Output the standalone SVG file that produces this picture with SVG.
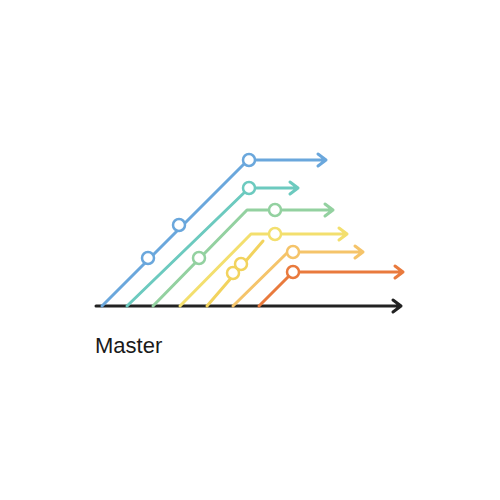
<svg xmlns="http://www.w3.org/2000/svg" width="500" height="500" viewBox="0 0 500 500">
<style>
.ln{fill:none;stroke-width:3;stroke-linecap:round;stroke-linejoin:round}
.dot{fill:#fff;stroke-width:2.5}
.lbl{font-family:"Liberation Sans",Arial,sans-serif;font-size:22px;fill:#1a1a1a}
</style>
<rect width="500" height="500" fill="#fff"/>
<g id="connectors">
<path id="master-line" class="ln" stroke="#222" d="M96,306 L401,306 M393,300 L401,306 L393,312"/>
<path id="blue-line" class="ln" stroke="#6aa7dc" d="M102,306 L248,160 L326,160 M318,154 L326,160 L318,166"/>
<path id="teal-line" class="ln" stroke="#6ccabf" d="M127,306 L249,188 L298,188 M290,182 L298,188 L290,194"/>
<path id="green-line" class="ln" stroke="#93d1a0" d="M153,306 L247,210 L333,210 M325,204 L333,210 L325,216"/>
<path id="yellow-line" class="ln" stroke="#f3df6e" d="M180,306 L251,234 L347,234 M339,228 L347,234 L339,240"/>
<path id="yellow2-line" class="ln" stroke="#f2d35e" d="M207,306 L263,241"/>
<path id="lorange-line" class="ln" stroke="#f5c46a" d="M233,306 L288,252 L363,252 M355,246 L363,252 L355,258"/>
<path id="orange-line" class="ln" stroke="#e97a3d" d="M259,306 L293,272 L403,272 M395,266 L403,272 L395,278"/>
</g>
<g id="blue-commits" stroke="#6aa7dc">
<circle class="dot" cx="148" cy="258" r="6"/>
<circle class="dot" cx="179" cy="225" r="6"/>
<circle class="dot" cx="249" cy="160" r="6"/>
</g>
<g id="teal-commits" stroke="#6ccabf">
<circle class="dot" cx="249" cy="188" r="6"/>
</g>
<g id="green-commits" stroke="#93d1a0">
<circle class="dot" cx="199" cy="258" r="6"/>
<circle class="dot" cx="275" cy="210" r="6"/>
</g>
<g id="yellow-commits" stroke="#f3df6e">
<circle class="dot" cx="275" cy="234" r="6"/>
</g>
<g id="yellow2-commits" stroke="#f2d35e">
<circle class="dot" cx="233" cy="273" r="6"/>
<circle class="dot" cx="241" cy="264" r="6"/>
</g>
<g id="lorange-commits" stroke="#f5c46a">
<circle class="dot" cx="293" cy="252" r="6"/>
</g>
<g id="orange-commits" stroke="#e97a3d">
<circle class="dot" cx="293" cy="272" r="6"/>
</g>
<g id="master-label">
<text class="lbl" x="95" y="353">Master</text>
</g>
</svg>
